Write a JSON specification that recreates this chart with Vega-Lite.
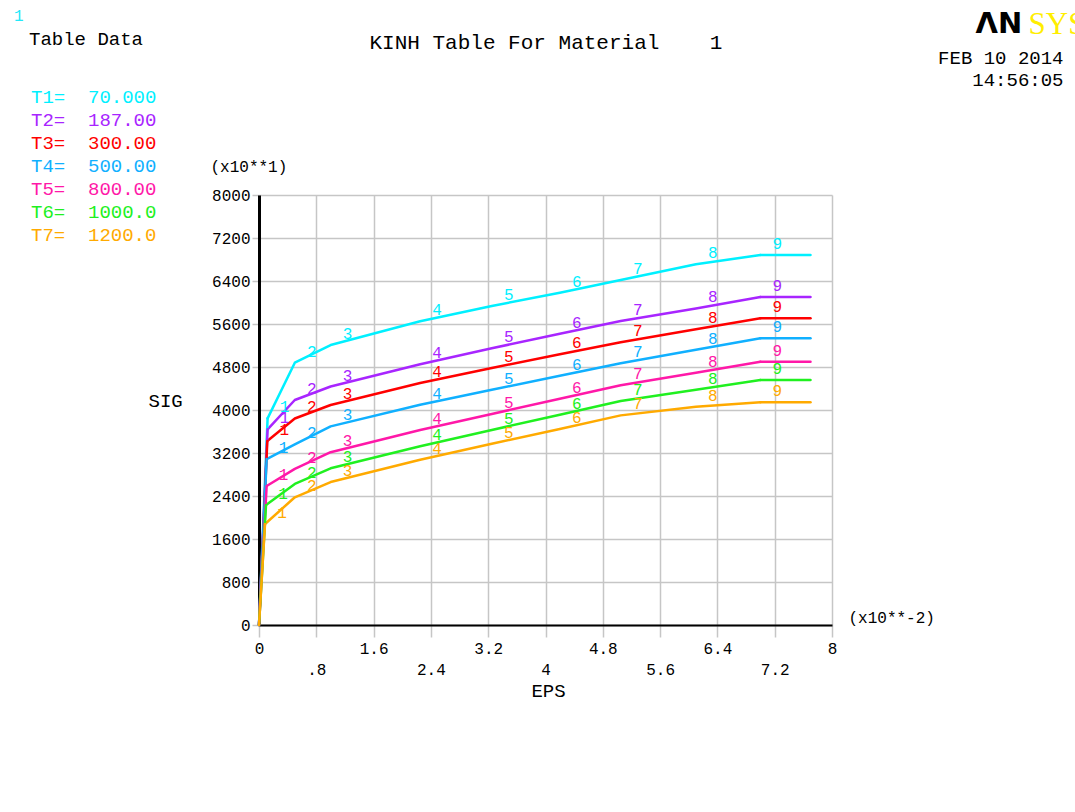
{
  "$schema": "https://vega.github.io/schema/vega-lite/v6.json",
  "width": 573,
  "height": 430,
  "autosize": {"type": "none"},
  "padding": {"left": 259, "top": 195, "right": 243, "bottom": 187},
  "background": "white",
  "config": {
    "font": "Liberation Mono",
    "view": {"stroke": null},
    "axis": {"titleFontWeight": "normal", "titleColor": "black", "labelColor": "black"}
  },
  "title": {
    "text": "1",
    "color": "#22e8f8",
    "font": "Liberation Mono",
    "fontSize": 16,
    "fontWeight": "normal",
    "anchor": "start",
    "frame": "group",
    "dx": -245,
    "dy": 20
  },
  "data": {
    "values": [
      {"curve": "T1=\u00a0\u00a070.000", "n": 0, "eps": 0, "sig": 0},
      {"curve": "T1=\u00a0\u00a070.000", "n": 1, "eps": 0.12, "sig": 3845},
      {"curve": "T1=\u00a0\u00a070.000", "n": 2, "eps": 0.5, "sig": 4880},
      {"curve": "T1=\u00a0\u00a070.000", "n": 3, "eps": 1.0, "sig": 5209},
      {"curve": "T1=\u00a0\u00a070.000", "n": 4, "eps": 2.25, "sig": 5650},
      {"curve": "T1=\u00a0\u00a070.000", "n": 5, "eps": 3.25, "sig": 5935},
      {"curve": "T1=\u00a0\u00a070.000", "n": 6, "eps": 4.2, "sig": 6183},
      {"curve": "T1=\u00a0\u00a070.000", "n": 7, "eps": 5.05, "sig": 6420},
      {"curve": "T1=\u00a0\u00a070.000", "n": 8, "eps": 6.1, "sig": 6711},
      {"curve": "T1=\u00a0\u00a070.000", "n": 9, "eps": 7.0, "sig": 6884},
      {"curve": "T1=\u00a0\u00a070.000", "n": 10, "eps": 7.7, "sig": 6884},

      {"curve": "T2=\u00a0\u00a0187.00", "n": 0, "eps": 0, "sig": 0},
      {"curve": "T2=\u00a0\u00a0187.00", "n": 1, "eps": 0.12, "sig": 3641},
      {"curve": "T2=\u00a0\u00a0187.00", "n": 2, "eps": 0.5, "sig": 4186},
      {"curve": "T2=\u00a0\u00a0187.00", "n": 3, "eps": 1.0, "sig": 4437},
      {"curve": "T2=\u00a0\u00a0187.00", "n": 4, "eps": 2.25, "sig": 4850},
      {"curve": "T2=\u00a0\u00a0187.00", "n": 5, "eps": 3.25, "sig": 5148},
      {"curve": "T2=\u00a0\u00a0187.00", "n": 6, "eps": 4.2, "sig": 5420},
      {"curve": "T2=\u00a0\u00a0187.00", "n": 7, "eps": 5.05, "sig": 5656},
      {"curve": "T2=\u00a0\u00a0187.00", "n": 8, "eps": 6.1, "sig": 5890},
      {"curve": "T2=\u00a0\u00a0187.00", "n": 9, "eps": 7.0, "sig": 6102},
      {"curve": "T2=\u00a0\u00a0187.00", "n": 10, "eps": 7.7, "sig": 6102},

      {"curve": "T3=\u00a0\u00a0300.00", "n": 0, "eps": 0, "sig": 0},
      {"curve": "T3=\u00a0\u00a0300.00", "n": 1, "eps": 0.116, "sig": 3423},
      {"curve": "T3=\u00a0\u00a0300.00", "n": 2, "eps": 0.5, "sig": 3842},
      {"curve": "T3=\u00a0\u00a0300.00", "n": 3, "eps": 1.0, "sig": 4093},
      {"curve": "T3=\u00a0\u00a0300.00", "n": 4, "eps": 2.25, "sig": 4502},
      {"curve": "T3=\u00a0\u00a0300.00", "n": 5, "eps": 3.25, "sig": 4781},
      {"curve": "T3=\u00a0\u00a0300.00", "n": 6, "eps": 4.2, "sig": 5038},
      {"curve": "T3=\u00a0\u00a0300.00", "n": 7, "eps": 5.05, "sig": 5260},
      {"curve": "T3=\u00a0\u00a0300.00", "n": 8, "eps": 6.1, "sig": 5501},
      {"curve": "T3=\u00a0\u00a0300.00", "n": 9, "eps": 7.0, "sig": 5706},
      {"curve": "T3=\u00a0\u00a0300.00", "n": 10, "eps": 7.7, "sig": 5706},

      {"curve": "T4=\u00a0\u00a0500.00", "n": 0, "eps": 0, "sig": 0},
      {"curve": "T4=\u00a0\u00a0500.00", "n": 1, "eps": 0.107, "sig": 3088},
      {"curve": "T4=\u00a0\u00a0500.00", "n": 2, "eps": 0.5, "sig": 3360},
      {"curve": "T4=\u00a0\u00a0500.00", "n": 3, "eps": 1.0, "sig": 3695},
      {"curve": "T4=\u00a0\u00a0500.00", "n": 4, "eps": 2.25, "sig": 4099},
      {"curve": "T4=\u00a0\u00a0500.00", "n": 5, "eps": 3.25, "sig": 4376},
      {"curve": "T4=\u00a0\u00a0500.00", "n": 6, "eps": 4.2, "sig": 4636},
      {"curve": "T4=\u00a0\u00a0500.00", "n": 7, "eps": 5.05, "sig": 4870},
      {"curve": "T4=\u00a0\u00a0500.00", "n": 8, "eps": 6.1, "sig": 5122},
      {"curve": "T4=\u00a0\u00a0500.00", "n": 9, "eps": 7.0, "sig": 5334},
      {"curve": "T4=\u00a0\u00a0500.00", "n": 10, "eps": 7.7, "sig": 5334},

      {"curve": "T5=\u00a0\u00a0800.00", "n": 0, "eps": 0, "sig": 0},
      {"curve": "T5=\u00a0\u00a0800.00", "n": 1, "eps": 0.107, "sig": 2586},
      {"curve": "T5=\u00a0\u00a0800.00", "n": 2, "eps": 0.5, "sig": 2905},
      {"curve": "T5=\u00a0\u00a0800.00", "n": 3, "eps": 1.0, "sig": 3215},
      {"curve": "T5=\u00a0\u00a0800.00", "n": 4, "eps": 2.25, "sig": 3628},
      {"curve": "T5=\u00a0\u00a0800.00", "n": 5, "eps": 3.25, "sig": 3926},
      {"curve": "T5=\u00a0\u00a0800.00", "n": 6, "eps": 4.2, "sig": 4210},
      {"curve": "T5=\u00a0\u00a0800.00", "n": 7, "eps": 5.05, "sig": 4462},
      {"curve": "T5=\u00a0\u00a0800.00", "n": 8, "eps": 6.1, "sig": 4694},
      {"curve": "T5=\u00a0\u00a0800.00", "n": 9, "eps": 7.0, "sig": 4899},
      {"curve": "T5=\u00a0\u00a0800.00", "n": 10, "eps": 7.7, "sig": 4899},

      {"curve": "T6=\u00a0\u00a01000.0", "n": 0, "eps": 0, "sig": 0},
      {"curve": "T6=\u00a0\u00a01000.0", "n": 1, "eps": 0.098, "sig": 2233},
      {"curve": "T6=\u00a0\u00a01000.0", "n": 2, "eps": 0.5, "sig": 2625},
      {"curve": "T6=\u00a0\u00a01000.0", "n": 3, "eps": 1.0, "sig": 2915},
      {"curve": "T6=\u00a0\u00a01000.0", "n": 4, "eps": 2.25, "sig": 3327},
      {"curve": "T6=\u00a0\u00a01000.0", "n": 5, "eps": 3.25, "sig": 3628},
      {"curve": "T6=\u00a0\u00a01000.0", "n": 6, "eps": 4.2, "sig": 3913},
      {"curve": "T6=\u00a0\u00a01000.0", "n": 7, "eps": 5.05, "sig": 4168},
      {"curve": "T6=\u00a0\u00a01000.0", "n": 8, "eps": 6.1, "sig": 4378},
      {"curve": "T6=\u00a0\u00a01000.0", "n": 9, "eps": 7.0, "sig": 4558},
      {"curve": "T6=\u00a0\u00a01000.0", "n": 10, "eps": 7.7, "sig": 4558},

      {"curve": "T7=\u00a0\u00a01200.0", "n": 0, "eps": 0, "sig": 0},
      {"curve": "T7=\u00a0\u00a01200.0", "n": 1, "eps": 0.084, "sig": 1879},
      {"curve": "T7=\u00a0\u00a01200.0", "n": 2, "eps": 0.5, "sig": 2376},
      {"curve": "T7=\u00a0\u00a01200.0", "n": 3, "eps": 1.0, "sig": 2660},
      {"curve": "T7=\u00a0\u00a01200.0", "n": 4, "eps": 2.25, "sig": 3076},
      {"curve": "T7=\u00a0\u00a01200.0", "n": 5, "eps": 3.25, "sig": 3371},
      {"curve": "T7=\u00a0\u00a01200.0", "n": 6, "eps": 4.2, "sig": 3648},
      {"curve": "T7=\u00a0\u00a01200.0", "n": 7, "eps": 5.05, "sig": 3900},
      {"curve": "T7=\u00a0\u00a01200.0", "n": 8, "eps": 6.1, "sig": 4062},
      {"curve": "T7=\u00a0\u00a01200.0", "n": 9, "eps": 7.0, "sig": 4143},
      {"curve": "T7=\u00a0\u00a01200.0", "n": 10, "eps": 7.7, "sig": 4143}
    ]
  },
  "encoding": {
    "color": {
      "field": "curve",
      "type": "nominal",
      "scale": {
        "domain": ["T1=\u00a0\u00a070.000", "T2=\u00a0\u00a0187.00", "T3=\u00a0\u00a0300.00", "T4=\u00a0\u00a0500.00", "T5=\u00a0\u00a0800.00", "T6=\u00a0\u00a01000.0", "T7=\u00a0\u00a01200.0"],
        "range": ["#00f0ff", "#a825ff", "#ff0000", "#10b0ff", "#ff18a8", "#20f020", "#ffaa00"]
      },
      "legend": {
        "orient": "none",
        "legendX": -230,
        "legendY": -165,
        "title": "Table Data",
        "titleFont": "Liberation Mono",
        "titleFontSize": 19,
        "titleFontWeight": "normal",
        "titleColor": "black",
        "titlePadding": 38,
        "labelFont": "Liberation Mono",
        "labelFontSize": 19,
        "labelColor": {"expr": "scale('color', datum.value)"},
        "labelOffset": -17,
        "symbolSize": 0,
        "symbolOpacity": 0,
        "symbolStrokeWidth": 0,
        "rowPadding": 3,
        "padding": 0
      }
    }
  },
  "resolve": {"axis": {"x": "independent", "y": "independent"}},
  "layer": [
    {
      "transform": [{"filter": "datum.n >= 1 && datum.n <= 9"}],
      "mark": {"type": "line", "strokeWidth": 2.5, "strokeCap": "round", "strokeJoin": "round"},
      "encoding": {
        "x": {
          "field": "eps", "type": "quantitative",
          "scale": {"domain": [0, 8], "nice": false, "zero": false},
          "axis": {
            "orient": "bottom",
            "values": [0, 0.8, 1.6, 2.4, 3.2, 4, 4.8, 5.6, 6.4, 7.2, 8],
            "grid": true, "gridColor": "#c6c6c6", "gridWidth": 1.5,
            "ticks": true, "tickColor": "#c6c6c6", "tickWidth": 1.5, "tickSize": 12,
            "domainColor": "black", "domainWidth": 2,
            "labelFont": "Liberation Mono", "labelFontSize": 16,
            "labelPadding": 3, "labelBaseline": "top", "labelLineHeight": 21,
            "labelFlush": false, "labelOverlap": false,
            "labelExpr": "(round(datum.value * 10) % 16 == 8) ? ['', datum.value < 1 ? '.8' : format(datum.value, '.1~f')] : format(datum.value, '.1~f')",
            "title": "EPS",
            "titleFont": "Liberation Mono", "titleFontSize": 19,
            "titleX": 289, "titleY": 71, "titleAlign": "center", "titleBaseline": "alphabetic"
          }
        },
        "y": {
          "field": "sig", "type": "quantitative",
          "scale": {"domain": [0, 8000], "nice": false, "zero": false},
          "axis": {
            "orient": "left",
            "values": [0, 800, 1600, 2400, 3200, 4000, 4800, 5600, 6400, 7200, 8000],
            "grid": true, "gridColor": "#c6c6c6", "gridWidth": 1.5,
            "ticks": true, "tickColor": "#c6c6c6", "tickWidth": 1.5, "tickSize": 7,
            "domainColor": "black", "domainWidth": 3,
            "labelFont": "Liberation Mono", "labelFontSize": 16,
            "labelPadding": 2, "labelFlush": false, "labelOverlap": false,
            "format": "d",
            "title": "SIG",
            "titleFont": "Liberation Mono", "titleFontSize": 19, "titleAngle": 0,
            "titleX": -111, "titleY": 211, "titleAlign": "left", "titleBaseline": "alphabetic"
          }
        }
      }
    },
    {
      "transform": [{"filter": "datum.n <= 1"}],
      "mark": {"type": "line", "strokeWidth": 2.5, "strokeCap": "round", "strokeJoin": "round"},
      "encoding": {
        "x": {
          "field": "eps", "type": "quantitative",
          "scale": {"domain": [0, 8], "nice": false, "zero": false},
          "axis": {
            "orient": "top", "labels": false, "ticks": false, "domain": false, "grid": false,
            "title": "(x10**1)",
            "titleFont": "Liberation Mono", "titleFontSize": 16,
            "titleX": -49, "titleY": -24, "titleAlign": "left", "titleBaseline": "alphabetic"
          }
        },
        "y": {
          "field": "sig", "type": "quantitative",
          "scale": {"domain": [0, 8000], "nice": false, "zero": false},
          "axis": {
            "orient": "right", "labels": false, "ticks": false, "domain": false, "grid": false,
            "title": "(x10**-2)",
            "titleFont": "Liberation Mono", "titleFontSize": 16, "titleAngle": 0,
            "titleX": 16, "titleY": 427, "titleAlign": "left", "titleBaseline": "alphabetic"
          }
        }
      }
    },
    {
      "transform": [{"filter": "datum.n >= 9"}],
      "mark": {"type": "line", "strokeWidth": 2.5, "strokeCap": "round", "strokeJoin": "round"},
      "encoding": {
        "x": {
          "field": "eps", "type": "quantitative",
          "scale": {"domain": [0, 8], "nice": false, "zero": false},
          "axis": {
            "orient": "top", "labels": false, "ticks": false, "domain": false, "grid": false,
            "title": "KINH Table For Material\u00a0\u00a0\u00a0\u00a01",
            "titleFont": "Liberation Mono", "titleFontSize": 21,
            "titleX": 110, "titleY": -147, "titleAlign": "left", "titleBaseline": "alphabetic"
          }
        },
        "y": {
          "field": "sig", "type": "quantitative",
          "scale": {"domain": [0, 8000], "nice": false, "zero": false},
          "axis": {
            "orient": "right", "labels": false, "ticks": false, "domain": false, "grid": false,
            "title": ["FEB 10 2014", "14:56:05"],
            "titleFont": "Liberation Mono", "titleFontSize": 19, "titleAngle": 0, "titleLineHeight": 22,
            "titleX": 231, "titleY": -132, "titleAlign": "right", "titleBaseline": "alphabetic"
          }
        }
      }
    },
    {
      "transform": [{"filter": "datum.n >= 1 && datum.n <= 9"}],
      "mark": {"type": "text", "dx": 17, "dy": -11, "font": "Liberation Mono", "fontSize": 16, "align": "center", "baseline": "middle"},
      "encoding": {
        "text": {"field": "n", "type": "nominal"},
        "x": {
          "field": "eps", "type": "quantitative",
          "scale": {"domain": [0, 8], "nice": false, "zero": false},
          "axis": {
            "orient": "top", "labels": false, "ticks": false, "domain": false, "grid": false,
            "title": "\u039bN",
            "titleFont": "DejaVu Sans", "titleFontSize": 29, "titleFontWeight": "bold", "titleColor": "black",
            "titleX": 716, "titleY": -163, "titleAlign": "left", "titleBaseline": "alphabetic"
          }
        },
        "y": {
          "field": "sig", "type": "quantitative",
          "scale": {"domain": [0, 8000], "nice": false, "zero": false},
          "axis": {
            "orient": "right", "labels": false, "ticks": false, "domain": false, "grid": false,
            "title": "SYS",
            "titleFont": "Liberation Serif", "titleFontSize": 31, "titleColor": "#ffee00", "titleAngle": 0,
            "titleX": 196, "titleY": -162, "titleAlign": "left", "titleBaseline": "alphabetic"
          }
        }
      }
    }
  ]
}
